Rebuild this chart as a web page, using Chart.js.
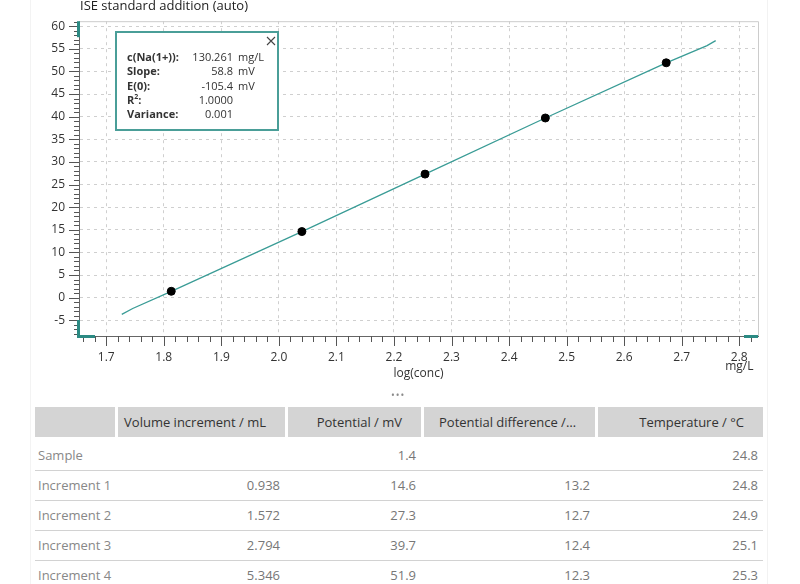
<!DOCTYPE html>
<html>
<head>
<meta charset="utf-8">
<script src="https://cdn.jsdelivr.net/npm/chart.js@4.4.0/dist/chart.umd.min.js"></script>
<style>
  body { margin: 0; background: #fff; font-family: "Open Sans", sans-serif; }
  #wrap { position: relative; width: 800px; height: 584px; overflow: hidden; }
  #panelL { position: absolute; left: 30px; top: 0; width: 1px; height: 584px; background: #f3f3f3; }
  #panelR { position: absolute; left: 767px; top: 0; width: 1px; height: 584px; background: #f2f2f2; }
  #chartTitle { position: absolute; left: 80px; top: -2px; font-size: 13px; line-height: 15px; color: #222; white-space: nowrap; }
  #chart { position: absolute; left: 0; top: 0; }
  #infoBox { position: absolute; left: 115px; top: 31px; width: 160px; height: 96px; border: 2px solid #4a9e98; background: #fff; color: #333; font-size: 11px; }
  #infoBox .row { position: absolute; left: 0; height: 14px; line-height: 14px; width: 160px; }
  #infoBox .lab { position: absolute; left: 10px; font-weight: bold; }
  #infoBox .val { position: absolute; left: 0; width: 116px; text-align: right; }
  #infoBox .unit { position: absolute; left: 121px; }
  #infoBox svg { position: absolute; left: 149px; top: 3px; }
  #dots { position: absolute; left: 391px; top: 388px; font-size: 10px; letter-spacing: 1px; color: #8a8a8a; }
  #table { position: absolute; left: 35px; top: 407px; width: 728px; font-size: 13px; }
  .hcell { position: absolute; top: 0; height: 30px; line-height: 30px; background: #d4d4d4; color: #333; text-align: right; box-sizing: border-box; padding-right: 19px; white-space: nowrap; }
  .dcell { position: absolute; height: 30px; line-height: 30px; color: #777; text-align: right; box-sizing: border-box; padding-right: 5px; white-space: nowrap; }
  .rlab { text-align: left; padding-left: 3px; color: #888; }
  .sep { position: absolute; left: 0; width: 728px; height: 1px; background: #d2d2d2; }
</style>
</head>
<body>
<div id="wrap">
  <div id="panelL"></div>
  <div id="panelR"></div>
  <canvas id="chart" width="800" height="390"></canvas>
  <div id="chartTitle">ISE standard addition (auto)</div>
  <div id="infoBox"></div>
  <div id="dots">&#8226;&#8226;&#8226;</div>
  <div id="table"></div>
</div>

<script>
/* ================= DATA ================= */
// measured points: log(conc) vs potential
const logConc = [1.813, 2.040, 2.254, 2.463, 2.673];
const potential = [1.4, 14.6, 27.3, 39.7, 51.9];

// fitted line as drawn
const fitLogConc = [1.727, 1.746, 1.813, 2.040, 2.254, 2.463, 2.673, 2.744, 2.759];
const fitPotential = [-3.7, -2.4, 1.4, 14.6, 27.3, 39.7, 51.9, 55.7, 56.8];

const xTicks = [1.7, 1.8, 1.9, 2.0, 2.1, 2.2, 2.3, 2.4, 2.5, 2.6, 2.7, 2.8];
const yTicks = [-5, 0, 5, 10, 15, 20, 25, 30, 35, 40, 45, 50, 55, 60];

// result box
const infoLabels = ["c(Na(1+)):", "Slope:", "E(0):", "R<sup style='font-size:7px;line-height:0'>2</sup>:", "Variance:"];
const infoValues = ["130.261", "58.8", "-105.4", "1.0000", "0.001"];
const infoUnits = ["mg/L", "mV", "mV", "", ""];

// table
const colHeaders = ["", "Volume increment / mL", "Potential / mV", "Potential difference /\u2026", "Temperature / \u00B0C"];
const rowLabels = ["Sample", "Increment 1", "Increment 2", "Increment 3", "Increment 4"];
const volumeIncrement = ["", "0.938", "1.572", "2.794", "5.346"];
const potentialDiff = ["", "13.2", "12.7", "12.4", "12.3"];
const temperature = [24.8, 24.8, 24.9, 25.1, 25.3];

/* ================= INFO BOX ================= */
function buildInfoBox() {
  const box = document.getElementById("infoBox");
  let html = `<svg width="10" height="10"><path d="M1 1 L9 9 M9 1 L1 9" stroke="#444" stroke-width="1.1"/></svg>`;
  infoLabels.forEach((lab, i) => {
    html += `
      <div class="row" style="top:${17 + i * 14.3}px">
        <span class="lab">${lab}</span>
        <span class="val">${infoValues[i]}</span>
        <span class="unit">${infoUnits[i]}</span>
      </div>`;
  });
  box.innerHTML = html;
}

/* ================= TABLE ================= */
function buildTable() {
  const t = document.getElementById("table");
  const colX = [0, 80, 250, 386, 560, 728];
  let html = "";

  colHeaders.forEach((h, c) => {
    const left = colX[c] + (c > 0 ? 3 : 0);
    html += `<div class="hcell" style="left:${left}px;width:${colX[c + 1] - left}px">${h}</div>`;
  });

  rowLabels.forEach((r, i) => {
    const top = 33 + i * 30;
    const cells = [r, volumeIncrement[i], potential[i].toFixed(1), potentialDiff[i], temperature[i].toFixed(1)];
    cells.forEach((v, c) => {
      html += `<div class="dcell ${c === 0 ? "rlab" : ""}" style="top:${top}px;left:${colX[c]}px;width:${colX[c + 1] - colX[c]}px">${v}</div>`;
    });
    if (i < rowLabels.length - 1) html += `<div class="sep" style="top:${top + 30}px"></div>`;
  });

  t.innerHTML = html;
}

/* ================= CHART DECOR ================= */
const decorPlugin = {
  id: "decor",
  afterDraw(chart) {
    const { ctx, chartArea: a, scales: { x, y } } = chart;
    ctx.save();

    // top / right frame
    ctx.strokeStyle = "#cccccc";
    ctx.lineWidth = 1;
    ctx.beginPath();
    ctx.moveTo(a.left, a.top + 0.5);
    ctx.lineTo(a.right + 0.5, a.top + 0.5);
    ctx.lineTo(a.right + 0.5, a.bottom);
    ctx.stroke();

    // major + minor tick marks
    ctx.strokeStyle = "#555";
    ctx.beginPath();
    for (let v = -8; v <= 61; v++) {
      const py = Math.round(y.getPixelForValue(v)) + 0.5;
      const len = v % 5 === 0 ? 10 : 5;
      ctx.moveTo(a.left - len, py);
      ctx.lineTo(a.left, py);
    }
    for (let k = 83; k <= 141; k++) {
      const px = Math.round(x.getPixelForValue(k * 0.02)) + 0.5;
      const len = k % 5 === 0 ? 10 : 6;
      ctx.moveTo(px, a.bottom);
      ctx.lineTo(px, a.bottom + len);
    }
    ctx.stroke();

    // teal axis handles
    ctx.fillStyle = "#2b8a83";
    ctx.fillRect(a.left - 2, a.top, 3, 16);
    ctx.fillRect(a.left - 2, a.bottom - 16, 3, 17);
    ctx.fillRect(a.left - 2, a.bottom - 1, 18, 3);
    ctx.fillRect(a.right - 14, a.bottom - 1, 14, 3);

    // unit label under the last x tick
    ctx.fillStyle = "#333";
    ctx.font = '12px "Open Sans", sans-serif';
    ctx.textAlign = "center";
    ctx.textBaseline = "middle";
    ctx.fillText("mg/L", x.getPixelForValue(2.8), a.bottom + 31);

    ctx.restore();
  }
};

/* ================= CHART ================= */
function drawChart() {
  Chart.defaults.font.family = '"Open Sans", sans-serif';
  Chart.defaults.color = "#333";

  new Chart(document.getElementById("chart"), {
    type: "scatter",
    data: {
      datasets: [
        {
          label: "fit",
          data: fitLogConc.map((v, i) => ({ x: v, y: fitPotential[i] })),
          showLine: true,
          borderColor: "#3a9c96",
          borderWidth: 1.3,
          pointRadius: 0,
          order: 2
        },
        {
          label: "measured",
          data: logConc.map((v, i) => ({ x: v, y: potential[i] })),
          showLine: false,
          pointRadius: 4,
          backgroundColor: "#000",
          borderColor: "#000",
          order: 1
        }
      ]
    },
    options: {
      responsive: false,
      animation: false,
      devicePixelRatio: 1,
      layout: { padding: { top: 16, right: 42, left: 0, bottom: 0 } },
      plugins: { legend: { display: false }, tooltip: { enabled: false } },
      scales: {
        x: {
          type: "linear",
          min: 1.6527,
          max: 2.8325,
          afterBuildTicks: s => { s.ticks = xTicks.map(v => ({ value: v })); },
          afterFit: s => { s.height = 54; },
          ticks: { callback: v => v.toFixed(1), padding: 14, font: { size: 12 }, maxRotation: 0, autoSkip: false },
          grid: { color: "#cfcfcf", drawTicks: false },
          border: { display: true, color: "#666", dash: [3, 4] },
          title: { display: true, text: "log(conc)", font: { size: 12 }, padding: { top: 0, bottom: 9 } }
        },
        y: {
          min: -8.48,
          max: 61.09,
          afterBuildTicks: s => { s.ticks = yTicks.map(v => ({ value: v })); },
          afterFit: s => { s.width = 79; },
          ticks: { padding: 14, font: { size: 12 }, autoSkip: false },
          grid: { color: "#cfcfcf", drawTicks: false },
          border: { display: true, color: "#666", dash: [3, 4] }
        }
      }
    },
    plugins: [decorPlugin]
  });
}

buildInfoBox();
buildTable();
drawChart();
</script>
</body>
</html>
